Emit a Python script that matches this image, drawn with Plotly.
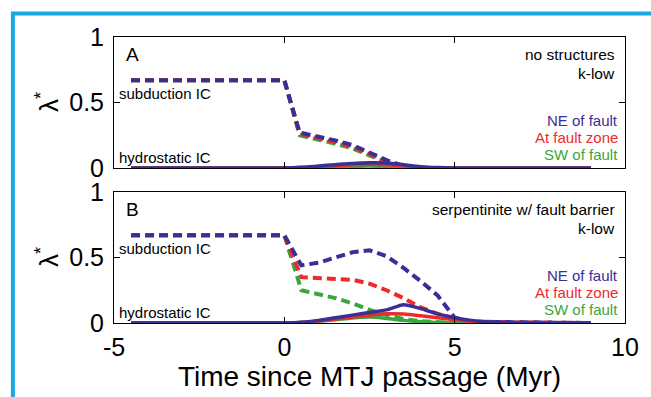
import plotly.graph_objects as go

# ---------------- data ----------------
x_dash_A = [-4.5, 0, 0.45, 1.0, 1.5, 2.0, 2.5, 3.0, 3.5, 4.0, 9.0]
ne_dash_A = [0.67, 0.67, 0.27, 0.24, 0.21, 0.175, 0.12, 0.06, 0.015, 0.0, 0.0]
at_dash_A = [0.67, 0.67, 0.26, 0.23, 0.197, 0.16, 0.105, 0.05, 0.01, 0.0, 0.0]
sw_dash_A = [0.67, 0.67, 0.25, 0.22, 0.185, 0.15, 0.095, 0.04, 0.005, 0.0, 0.0]

x_solid = [-4.5, 0, 0.5, 1.0, 1.5, 2.0, 2.5, 3.0, 3.5, 4.0, 4.5, 5.0, 5.5, 6.0, 6.5, 7.0, 9.0]
ne_solid_A = [0, 0, 0.005, 0.015, 0.025, 0.035, 0.04, 0.038, 0.025, 0.01, 0.003, 0, 0, 0, 0, 0, 0]
at_solid_A = [0, 0, 0.003, 0.01, 0.018, 0.025, 0.028, 0.025, 0.015, 0.006, 0.002, 0, 0, 0, 0, 0, 0]
sw_solid_A = [0, 0, 0.002, 0.005, 0.01, 0.013, 0.015, 0.012, 0.007, 0.003, 0.001, 0, 0, 0, 0, 0, 0]

x_dash_B = [-4.5, 0, 0.5, 1.0, 1.5, 2.0, 2.5, 3.0, 3.5, 4.0, 4.5, 5.0, 5.5, 9.0]
ne_dash_B = [0.67, 0.67, 0.44, 0.46, 0.50, 0.54, 0.555, 0.51, 0.42, 0.32, 0.21, 0.04, 0.01, 0.0]
at_dash_B = [0.67, 0.67, 0.35, 0.345, 0.34, 0.33, 0.30, 0.25, 0.19, 0.12, 0.07, 0.035, 0.01, 0.0]
sw_dash_B = [0.67, 0.67, 0.25, 0.22, 0.19, 0.15, 0.10, 0.06, 0.03, 0.015, 0.005, 0.0, 0.0, 0.0]

ne_solid_B = [0, 0, 0.005, 0.02, 0.04, 0.06, 0.08, 0.10, 0.14, 0.11, 0.07, 0.04, 0.02, 0.008, 0.003, 0, 0]
at_solid_B = [0, 0, 0.004, 0.015, 0.03, 0.045, 0.06, 0.07, 0.068, 0.055, 0.04, 0.025, 0.012, 0.005, 0.001, 0, 0]
sw_solid_B = [0, 0, 0.004, 0.013, 0.025, 0.038, 0.045, 0.035, 0.02, 0.01, 0.004, 0.001, 0, 0, 0, 0, 0]

x_ticks = [-5, 0, 5, 10]
x_tick_labels = ["-5", "0", "5", "10"]
y_ticks = [0, 0.5, 1]
y_tick_labels = ["0", "0.5", "1"]

BLUE = "#3A2F96"
RED = "#EE2B2B"
GREEN = "#3AA640"
FONT = "Liberation Sans, Arial, sans-serif"

fig = go.Figure()

def add_panel(xd, dg, dr, db, xs, sg, sr, sb, xa, ya):
    for y, c in ((dg, GREEN), (dr, RED), (db, BLUE)):
        fig.add_trace(go.Scatter(x=xd, y=y, mode="lines", xaxis=xa, yaxis=ya,
                                 line=dict(color=c, width=4, dash="9px,5px"),
                                 showlegend=False, hoverinfo="skip"))
    for y, c in ((sg, GREEN), (sr, RED), (sb, BLUE)):
        fig.add_trace(go.Scatter(x=xs, y=y, mode="lines", xaxis=xa, yaxis=ya,
                                 line=dict(color=c, width=3.5, shape="spline", smoothing=0.6),
                                 showlegend=False, hoverinfo="skip"))

add_panel(x_dash_A, sw_dash_A, at_dash_A, ne_dash_A, x_solid, sw_solid_A, at_solid_A, ne_solid_A, "x", "y")
add_panel(x_dash_B, sw_dash_B, at_dash_B, ne_dash_B, x_solid, sw_solid_B, at_solid_B, ne_solid_B, "x2", "y2")

axis_common = dict(showline=True, linecolor="black", linewidth=1, mirror="ticks",
                   ticks="inside", ticklen=6, tickcolor="black", showgrid=False,
                   zeroline=False, tickfont=dict(family=FONT, size=25, color="black"))

fig.update_layout(
    width=651, height=397,
    margin=dict(l=114, r=24, t=37, b=74),
    paper_bgcolor="white", plot_bgcolor="white",
    xaxis=dict(domain=[0, 1], range=[-5, 10], tickvals=x_ticks, showticklabels=False,
               anchor="y", **axis_common),
    yaxis=dict(domain=[0.542, 1], range=[0, 1], tickvals=y_ticks, ticktext=y_tick_labels,
               anchor="x", ticklabelstandoff=4, **axis_common),
    xaxis2=dict(domain=[0, 1], range=[-5, 10], tickvals=x_ticks, ticktext=x_tick_labels,
                anchor="y2", ticklabelstandoff=2,
                title=dict(text="Time since MTJ passage (Myr)", font=dict(family=FONT, size=28, color="black"),
                           standoff=4),
                **axis_common),
    yaxis2=dict(domain=[0, 0.458], range=[0, 1], tickvals=y_ticks, ticktext=y_tick_labels,
                anchor="x2", ticklabelstandoff=4, **axis_common),
)

ann = []
def txt(text, x, y, xref, yref, size, color="black", xanchor="left", angle=0):
    ann.append(dict(text=text, x=x, y=y, xref=xref, yref=yref, showarrow=False,
                    xanchor=xanchor, yanchor="middle", textangle=angle,
                    font=dict(family=FONT, size=size, color=color)))

for xr, yr, letter, title1 in (
        ("x domain", "y domain", "A", "no structures"),
        ("x2 domain", "y2 domain", "B", "serpentinite w/ fault barrier")):
    txt(letter, 0.02, 0.87, xr, yr, 19)
    txt("subduction IC", 0.005, 0.57, xr, yr, 15)
    txt("hydrostatic IC", 0.005, 0.08, xr, yr, 15)
    txt(title1, 0.985, 0.87, xr, yr, 15.5, xanchor="right")
    txt("k-low", 0.985, 0.72, xr, yr, 15.5, xanchor="right")
    txt("NE of fault", 0.99, 0.36, xr, yr, 15, BLUE, xanchor="right")
    txt("At fault zone", 0.99, 0.23, xr, yr, 15, RED, xanchor="right")
    txt("SW of fault", 0.99, 0.10, xr, yr, 15, GREEN, xanchor="right")

# y-axis titles (lambda*)
txt("λ<sup>*</sup>", -0.13, 0.5, "x domain", "y domain", 26, angle=-90, xanchor="center")
txt("λ<sup>*</sup>", -0.13, 0.5, "x2 domain", "y2 domain", 26, angle=-90, xanchor="center")
fig.update_layout(annotations=ann)

# blue frame along left and top edges
W, H = 651, 397
L, R, T, B = 114, 24, 37, 74
pw, ph = W - L - R, H - T - B
def px(x):
    return (x - L) / pw
def py(y):
    return (H - B - y) / ph
fig.add_shape(type="path", xref="paper", yref="paper",
              path=f"M {px(12.5)} {py(400)} L {px(12.5)} {py(13.5)} L {px(655)} {py(13.5)}",
              line=dict(color="#1AA7E6", width=4), layer="above")

fig.write_html("out.html")
